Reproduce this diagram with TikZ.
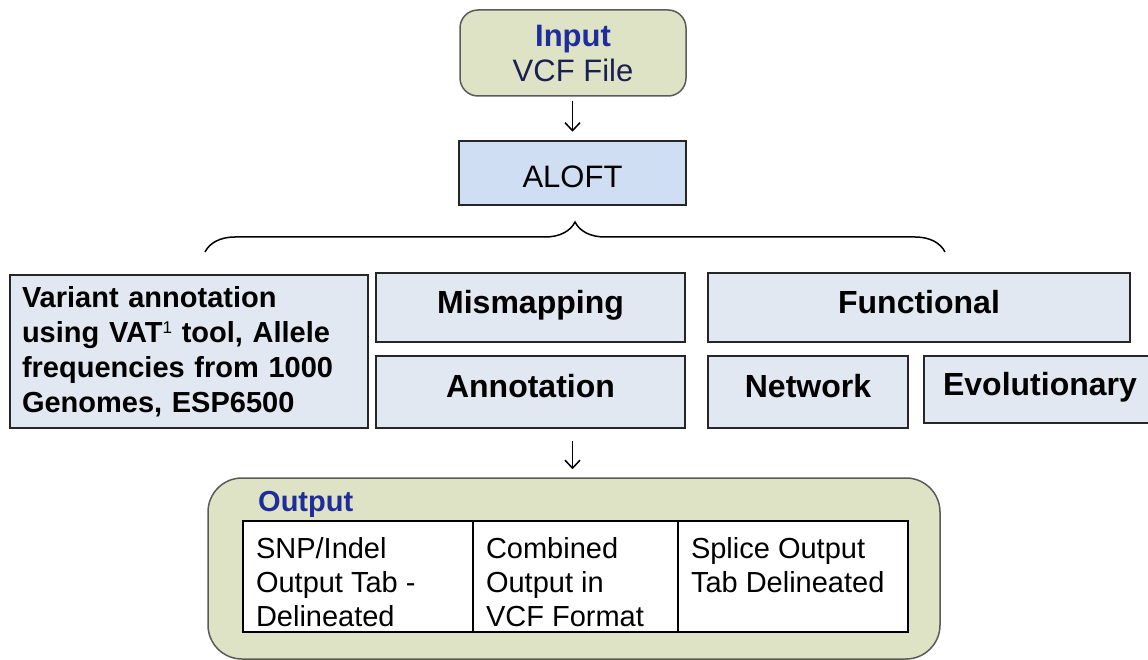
\documentclass[tikz,border=0pt]{standalone}
\usepackage{fontspec}
\setmainfont{Liberation Sans}
\usetikzlibrary{arrows.meta,decorations.pathreplacing}
\definecolor{pale-green}{HTML}{DFE3C5}
\definecolor{pale-blue}{HTML}{E1E8F1}
\definecolor{aloft-blue}{HTML}{CFDEF2}
\definecolor{title-blue}{HTML}{1E2C9C}
\definecolor{navy-text}{HTML}{1B2052}
\definecolor{edge-gray}{HTML}{5A5A5A}
\tikzset{
    green-box/.style = {draw=edge-gray, fill=pale-green, line width=1.5pt, rectangle, rounded corners=18pt},
    plain-box/.style = {draw=black!85, fill=pale-blue, line width=2.2pt, rectangle, inner sep=0pt, font=\fontsize{32}{38}\selectfont\bfseries},
    one-line/.style = {text height=23pt, text depth=12pt},
    table-cell/.style = {draw=black, fill=white, line width=2pt, rectangle, anchor=north west, outer sep=0pt, inner xsep=13pt, inner ysep=16pt, font=\fontsize{29}{34}\selectfont},
    down-arrow/.style = {-{Straight Barb[length=8pt,width=15pt]}, line width=1.5pt},
}
\begin{document}
\begin{tikzpicture}[x=1pt, y=1pt]
\useasboundingbox (0,0) rectangle (1148,-660);
% input and tool
\node [green-box, minimum width=226, minimum height=86, align=center, font=\fontsize{31}{35}\selectfont] (input) at (573,-53)
    {\textcolor{title-blue}{\bfseries Input}\\\textcolor{navy-text}{VCF File}};
\node [plain-box, fill=aloft-blue, line width=2.5pt, minimum width=227, minimum height=64, text height=30pt, text depth=0pt, font=\fontsize{31}{36}\selectfont] (aloft) at (572.5,-173) {ALOFT};
\draw [down-arrow, shorten <=4pt, shorten >=8pt] (input.south -| aloft.center) -- (aloft.north);

% brace over the modules
\coordinate (brace-left) at (205,-252);
\coordinate (brace-right) at (945,-252);
\draw [line width=1.5pt, decorate, decoration={brace, amplitude=30pt}] (brace-left) -- (brace-right);

% modules
\node [plain-box, minimum width=358, minimum height=153, text width=334, align=left, font=\fontsize{29}{35}\selectfont\bfseries] (variant) at (189,-351.5)
    {Variant annotation\\using VAT{\mdseries\fontsize{17}{17}\selectfont\raisebox{9pt}{1}} tool, Allele\\frequencies from 1000\\Genomes, ESP6500};
\node [plain-box, one-line, minimum width=309, minimum height=69] (mismap) at (530.5,-307.5) {Mismapping};
\node [plain-box, one-line, minimum width=309, minimum height=72] (annot) at (530.5,-392) {Annotation};
\node [plain-box, one-line, minimum width=422, minimum height=69] (func) at (919,-307.5) {Functional};
\node [plain-box, one-line, minimum width=200, minimum height=72] (network) at (808,-392) {Network};
\node [plain-box, one-line, minimum width=232, minimum height=67] (evol) at (1040,-389.5) {Evolutionary};

% output
\node [green-box, rounded corners=34pt, minimum width=732, minimum height=181] (output) at (574,-568.5) {};
\draw [down-arrow, shorten <=12pt, shorten >=8pt] (aloft.center |- annot.south) -- (aloft.center |- output.north);
\node [anchor=west, inner sep=0pt, text=title-blue, font=\fontsize{29}{34}\selectfont\bfseries] (output-title) at (258,-504) {Output};
\node [table-cell] (snp) at (243,-521)
    {\begin{minipage}[t][79pt][t]{204pt}SNP/Indel\\Output Tab -\\Delineated\end{minipage}};
\node [table-cell] (vcf) at (snp.north east)
    {\begin{minipage}[t][79pt][t]{179pt}Combined\\Output in\\VCF Format\end{minipage}};
\node [table-cell] (splice) at (vcf.north east)
    {\begin{minipage}[t][79pt][t]{204pt}Splice Output\\Tab Delineated\end{minipage}};
\end{tikzpicture}
\end{document}
